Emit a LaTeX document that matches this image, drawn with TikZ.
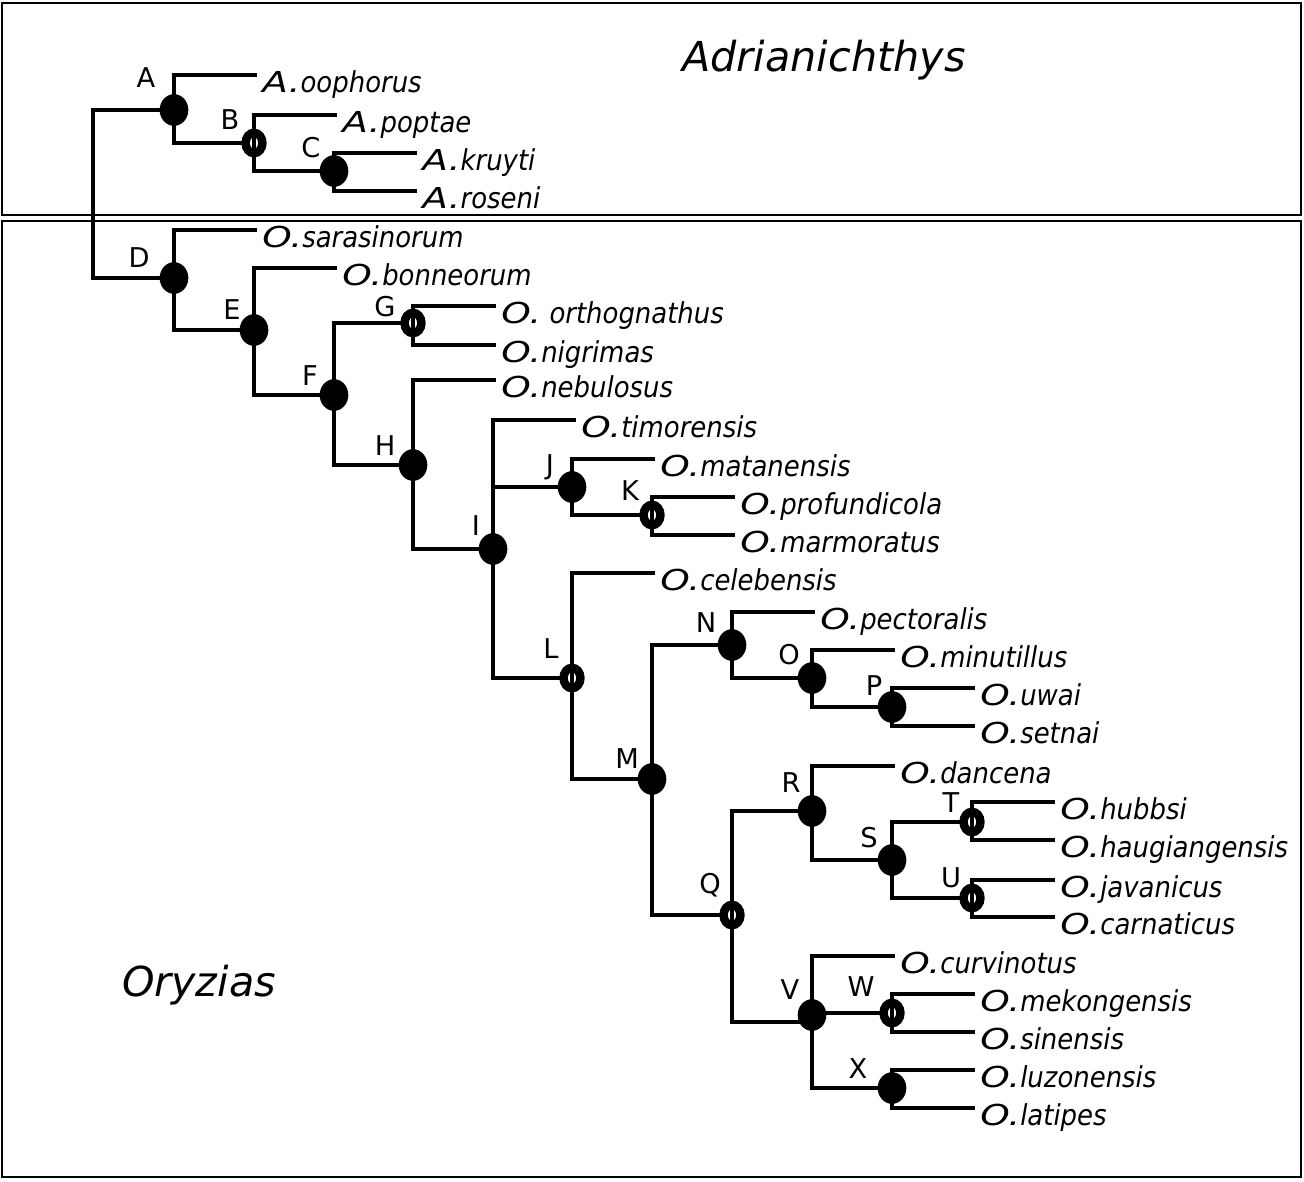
\documentclass[tikz,border=0pt]{standalone}
\usepackage{fontspec}
\setmainfont{DejaVu Sans}
\newfontfamily\spf[FakeStretch=0.9]{DejaVu Sans}
\newfontfamily\genf[FakeStretch=1.3]{DejaVu Sans}
\usetikzlibrary{shapes.geometric}
\tikzset{
  br/.style={line width=1.8pt, line cap=rect},
  boxframe/.style={line width=1.2pt},
  fullmk/.style={ellipse, fill=black, inner sep=0pt, minimum width=16.3pt, minimum height=18pt},
  openmk/.style={ellipse, fill=white, draw=black, line width=4.8pt, inner sep=0pt,
     minimum width=9.6pt, minimum height=11.6pt,
     path picture={\draw[line width=1.8pt] (path picture bounding box.north) -- (path picture bounding box.south);}},
  lab/.style={font=\fontsize{15.5pt}{17pt}\selectfont, inner sep=0pt},
  sp/.style={anchor=base west, inner sep=0pt, font=\fontsize{16.4pt}{18pt}\selectfont\itshape, xshift=4pt, yshift=-10pt},
  title/.style={font=\fontsize{23.5pt}{26pt}\selectfont\itshape, inner sep=0pt}
}
\newcommand{\gn}[2]{{\genf\itshape #1.}{\spf\itshape #2}}
\begin{document}
\begin{tikzpicture}[x=0.02cm,y=-0.02cm]
\useasboundingbox (0,0) rectangle (1304,1182);
\draw[boxframe] (2,3) rectangle (1301,215);
\draw[boxframe] (2,221) rectangle (1301,1177);
\node[title] (tAdr) at (824,60) {Adrianichthys};
\node[title] (tOry) at (199,985) {Oryzias};
% internal nodes
\coordinate (root) at (93,110);
\coordinate (nA) at (174,110);
\coordinate (nB) at (254,143);
\coordinate (nC) at (334,171);
\coordinate (nD) at (174,278);
\coordinate (nE) at (254,330);
\coordinate (nF) at (334,395);
\coordinate (nG) at (413,323);
\coordinate (nH) at (413,465);
\coordinate (nI) at (493,549);
\coordinate (nJ) at (572,487);
\coordinate (nK) at (652,515);
\coordinate (nL) at (572,678);
\coordinate (nM) at (652,779);
\coordinate (nN) at (732,645);
\coordinate (nO) at (812,678);
\coordinate (nP) at (892,707);
\coordinate (nQ) at (732,915);
\coordinate (nR) at (812,811);
\coordinate (nS) at (892,860);
\coordinate (nT) at (972,822);
\coordinate (nU) at (972,898);
\coordinate (nV) at (812,1022);
\coordinate (nW) at (892,1013);
\coordinate (nX) at (892,1088);
% tips
\coordinate (oophorus) at (255,75);
\coordinate (poptae) at (335,115);
\coordinate (kruyti) at (415,153);
\coordinate (roseni) at (415,191);
\coordinate (sarasinorum) at (255,230);
\coordinate (bonneorum) at (335,268);
\coordinate (orthognathus) at (494,306);
\coordinate (nigrimas) at (494,345);
\coordinate (nebulosus) at (494,380);
\coordinate (timorensis) at (574,420);
\coordinate (matanensis) at (653,459);
\coordinate (profundicola) at (733,497);
\coordinate (marmoratus) at (733,535);
\coordinate (celebensis) at (653,573);
\coordinate (pectoralis) at (813,612);
\coordinate (minutillus) at (893,650);
\coordinate (uwai) at (973,688);
\coordinate (setnai) at (973,726);
\coordinate (dancena) at (893,766);
\coordinate (hubbsi) at (1053,802);
\coordinate (haugiangensis) at (1053,840);
\coordinate (javanicus) at (1053,880);
\coordinate (carnaticus) at (1053,917);
\coordinate (curvinotus) at (893,956);
\coordinate (mekongensis) at (973,994);
\coordinate (sinensis) at (973,1032);
\coordinate (luzonensis) at (973,1070);
\coordinate (latipes) at (973,1108);
% branches
\foreach \p/\c in {root/nA, root/nD,
  nA/oophorus, nA/nB, nB/poptae, nB/nC, nC/kruyti, nC/roseni,
  nD/sarasinorum, nD/nE, nE/bonneorum, nE/nF, nF/nG, nF/nH,
  nG/orthognathus, nG/nigrimas, nH/nebulosus, nH/nI,
  nI/timorensis, nI/nJ, nI/nL, nJ/matanensis, nJ/nK, nK/profundicola, nK/marmoratus,
  nL/celebensis, nL/nM, nM/nN, nM/nQ, nN/pectoralis, nN/nO, nO/minutillus, nO/nP,
  nP/uwai, nP/setnai, nQ/nR, nQ/nV, nR/dancena, nR/nS, nS/nT, nS/nU,
  nT/hubbsi, nT/haugiangensis, nU/javanicus, nU/carnaticus,
  nV/curvinotus, nV/nW, nV/nX, nW/mekongensis, nW/sinensis, nX/luzonensis, nX/latipes}
  \draw[br] (\p) |- (\c);
% markers
\foreach \m in {A,C,D,E,F,H,I,J,M,N,O,P,R,S,X}
  \node[fullmk] (mk\m) at (n\m) {};
\node[fullmk] (mkV) at (812,1015) {};
\foreach \m in {B,G,K,L,Q,T,U,W}
  \node[openmk] (mk\m) at (n\m) {};
% clade labels
\foreach \m/\x/\y in {A/146/78, B/230/120, C/311/148, D/139/258, E/232/310, F/310/376,
  G/385/307, H/385/446, I/476/526, J/550/467, K/630/491, L/551/649, M/627/759,
  N/706/623, O/789/655, P/874/686, Q/710/885, R/791/783, S/869/838, T/951/803,
  U/951/878, V/790/990, W/861/987, X/858/1069}
  \node[lab] (lab\m) at (\x,\y) {\m};
% species
\node[sp] (s1) at (oophorus) {\gn{A}{oophorus}};
\node[sp] (s2) at (poptae) {\gn{A}{poptae}};
\node[sp] (s3) at (kruyti) {\gn{A}{kruyti}};
\node[sp] (s4) at (roseni) {\gn{A}{roseni}};
\node[sp] (s5) at (sarasinorum) {\gn{O}{sarasinorum}};
\node[sp] (s6) at (bonneorum) {\gn{O}{bonneorum}};
\node[sp] (s7) at (orthognathus) {\gn{O}{\ orthognathus}};
\node[sp] (s8) at (nigrimas) {\gn{O}{nigrimas}};
\node[sp] (s9) at (nebulosus) {\gn{O}{nebulosus}};
\node[sp] (s10) at (timorensis) {\gn{O}{timorensis}};
\node[sp] (s11) at (matanensis) {\gn{O}{matanensis}};
\node[sp] (s12) at (profundicola) {\gn{O}{profundicola}};
\node[sp] (s13) at (marmoratus) {\gn{O}{marmoratus}};
\node[sp] (s14) at (celebensis) {\gn{O}{celebensis}};
\node[sp] (s15) at (pectoralis) {\gn{O}{pectoralis}};
\node[sp] (s16) at (minutillus) {\gn{O}{minutillus}};
\node[sp] (s17) at (uwai) {\gn{O}{uwai}};
\node[sp] (s18) at (setnai) {\gn{O}{setnai}};
\node[sp] (s19) at (dancena) {\gn{O}{dancena}};
\node[sp] (s20) at (hubbsi) {\gn{O}{hubbsi}};
\node[sp] (s21) at (haugiangensis) {\gn{O}{haugiangensis}};
\node[sp] (s22) at (javanicus) {\gn{O}{javanicus}};
\node[sp] (s23) at (carnaticus) {\gn{O}{carnaticus}};
\node[sp] (s24) at (curvinotus) {\gn{O}{curvinotus}};
\node[sp] (s25) at (mekongensis) {\gn{O}{mekongensis}};
\node[sp] (s26) at (sinensis) {\gn{O}{sinensis}};
\node[sp] (s27) at (luzonensis) {\gn{O}{luzonensis}};
\node[sp] (s28) at (latipes) {\gn{O}{latipes}};
\end{tikzpicture}
\end{document}
